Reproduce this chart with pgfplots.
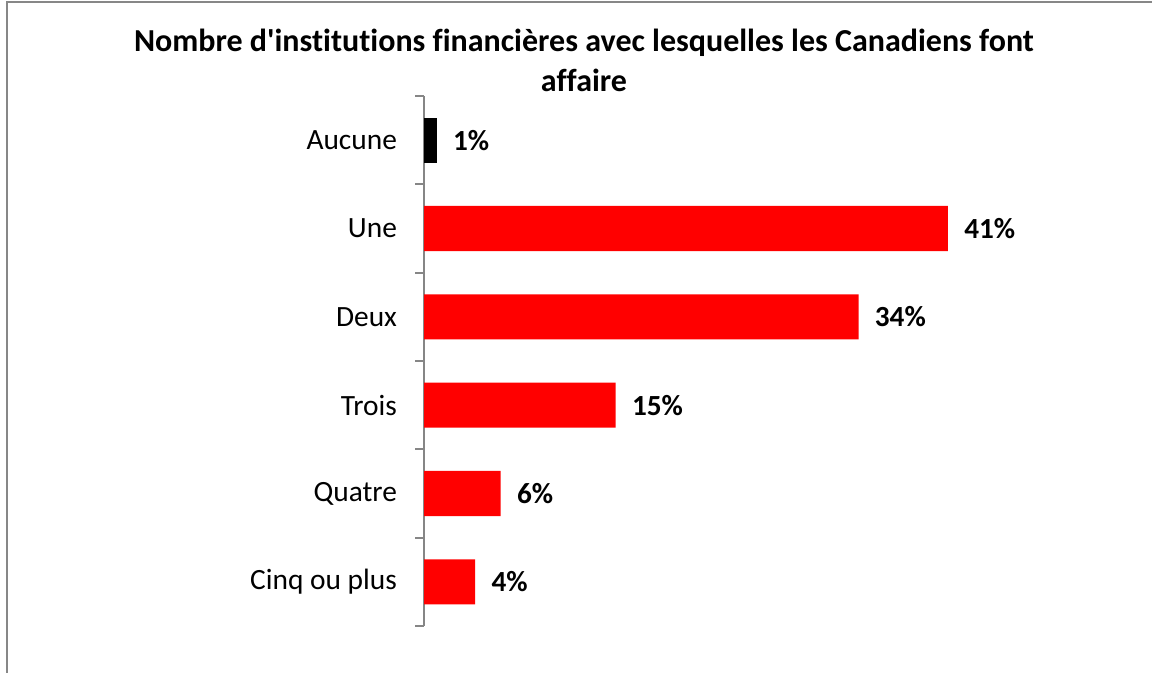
\documentclass[border=0pt]{standalone}
\usepackage{pgfplots}
\pgfplotsset{compat=1.18}
\usepackage{fontspec}
\setmainfont[Ligatures={NoCommon}]{Carlito}
\definecolor{framegray}{HTML}{878787}
\definecolor{axgray}{HTML}{868686}
\begin{document}
\begin{tikzpicture}
\useasboundingbox (0,0) rectangle (576pt,-336.5pt);
\draw[framegray, line width=1pt] (3.5pt,-337pt) -- (3.5pt,-1pt) -- (577pt,-1pt);
\node[font=\fontsize{16}{19}\selectfont\bfseries, anchor=base, inner sep=0pt] at (292pt,-26pt) {Nombre d\textquotesingle institutions financières avec lesquelles les Canadiens font};
\node[font=\fontsize{16}{19}\selectfont\bfseries, anchor=base, inner sep=0pt] at (292pt,-46pt) {affaire};
\begin{axis}[
  at={(212pt,-313pt)}, anchor=south west,
  scale only axis, width=319.5pt, height=265pt,
  xmin=0, xmax=50, ymin=-0.5, ymax=5.5, y dir=reverse,
  axis x line=none, axis y line*=left,
  axis line style={axgray, line width=1pt},
  ytick={0,1,2,3,4,5},
  yticklabels={Aucune,Une,Deux,Trois,Quatre,Cinq ou plus},
  major tick length=0pt,
  extra y ticks={-0.5,0.5,1.5,2.5,3.5,4.5,5.5},
  extra y tick labels={},
  extra y tick style={major tick length=4.5pt, tick align=outside, tick style={axgray, line width=1pt}},
  ticklabel style={font=\fontsize{14.7}{17}\selectfont, text=black},
  yticklabel style={xshift=-10pt},
  /pgf/number format/assume math mode=true,
  xbar, bar width=0.51, bar shift=0pt,
  nodes near coords={\pgfmathprintnumber{\pgfplotspointmeta}\%},
  every node near coord/.append style={font=\fontsize{14.6}{17}\selectfont\bfseries, text=black, anchor=west, inner sep=0pt, xshift=8pt},
  clip=false,
]
\addplot[fill=black, draw=none] coordinates {(1,0)};
\addplot[fill={rgb,255:red,255;green,0;blue,0}, draw=none] coordinates {(41,1) (34,2) (15,3) (6,4) (4,5)};
\end{axis}
\end{tikzpicture}
\end{document}
